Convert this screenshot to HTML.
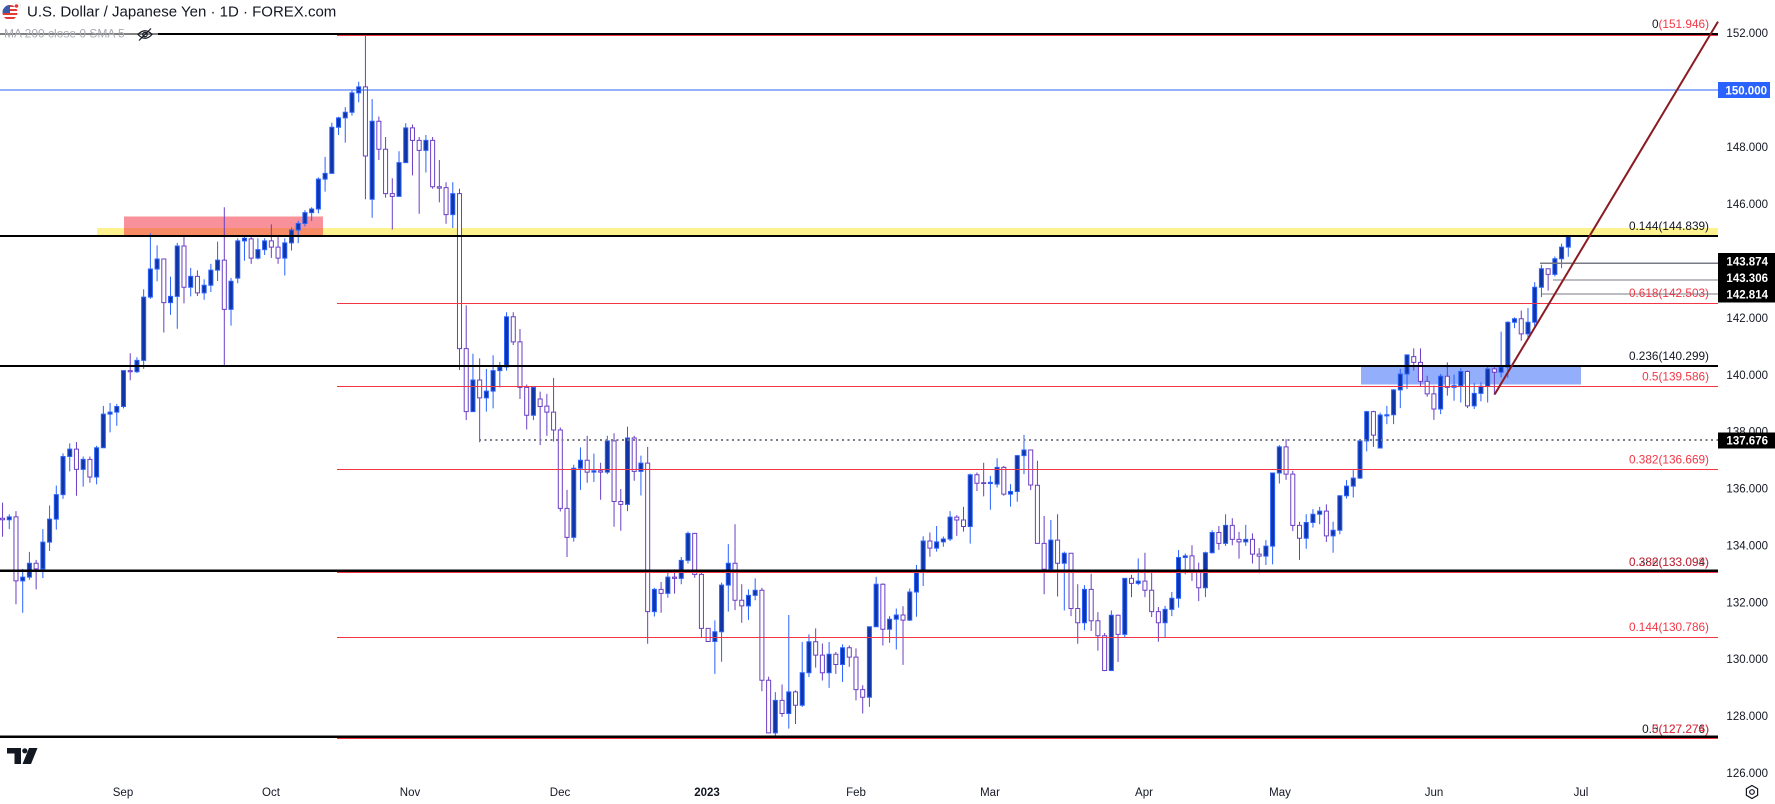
<!DOCTYPE html>
<html><head><meta charset="utf-8">
<style>
html,body{margin:0;padding:0;background:#fff;}
svg{display:block;font-family:"Liberation Sans",sans-serif;}
</style></head><body>
<svg width="1775" height="804" viewBox="0 0 1775 804" xmlns="http://www.w3.org/2000/svg">
<rect width="1775" height="804" fill="#ffffff"/>

<!-- zones -->
<rect x="97" y="228" width="1621" height="8" fill="#fdf28d"/>
<rect x="124" y="216.5" width="199" height="20.5" fill="rgb(242,54,69)" fill-opacity="0.55"/>
<rect x="1361" y="366.5" width="220" height="18" fill="#93affc"/>

<!-- wicks -->
<g transform="matrix(6.72 0 0 -28.456 123.5 4358.41)" fill="none" stroke-width="1">
<path vector-effect="non-scaling-stroke" stroke="#2962ff" d="M-17 135.09V134.57M-15 133.17V131.63M-14 133.77V132.79M-12 134.57V132.85M-11 135.4V133.8M-10 136.1V134.55M-9 137.23V135.63M-8 137.58V136.6M-6 137.12V136.06M-4 137.5V136.14M-3 138.9V137.43M-2 139V137.97M-1 138.97V138.2M0 140.14V138.81M2 140.61V140.06M3 143V140.2M4 144.96V142.66M5 144.54V143.28M7 143.44V142.1M8 144.63V141.61M10 143.75V142.75M12 143.35V142.63M13 143.89V142.9M14 144.67V143.29M16 143.4V141.72M17 144.79V143.21M18 144.9V144M20 144.79V144.05M21 144.79V144.2M24 144.79V143.48M25 145.17V144.36M26 145.4V144.62M27 145.78V145.21M28 145.88V145.4M29 146.93V145.67M30 147.65V146.43M31 148.85V147.07M32 149.06V148.42M33 149.4V148.15M34 149.98V149.1M35 150.29V149.57M37 149.68V145.51M41 147.85V146.26M42 148.83V147.45M45 148.42V147.1M49 146.76V145.15M52 140.73V138.7M54 140.2V138.7M55 140.68V138.81M56 140.44V139.55M57 142.19V140.14M61 139.55V138.4M67 136.83V134.13M68 137.44V135.95M70 137.22V136.23M72 137.85V136.5M75 138.17V135.2M77 137.15V135.75M79 132.51V131.5M81 133.1V132.16M83 133.59V132.63M84 134.48V133.36M88 131.36V129.48M89 132.69V129.91M90 134.04V131.67M93 132.45V131.38M94 132.84V132.07M97 128.84V127.21M99 131.55V127.56M101 130.6V128.32M102 130.87V129.37M105 130.6V128.99M107 130.52V129.2M111 131.14V128.32M112 132.89V131.14M114 131.51V130.57M115 131.78V130.34M117 132.48V131.34M118 133.31V131.49M119 134.32V132.57M121 134.68V133.78M122 134.31V133.95M123 135.2V134.15M126 136.52V134.06M129 136.44V135.25M130 137.06V136.03M132 136.15V135.36M133 137.18V135.53M134 137.88V136.5M138 134.89V133.06M140 133.78V131.71M143 132.6V131.02M147 131.71V129.58M149 132.84V130.75M151 133.54V132.6M155 131.87V130.75M156 132.36V131.51M157 133.83V131.81M158 133.71V132.98M161 133.78V132.18M162 134.53V133.71M164 135.09V133.98M167 134.72V133.98M170 134.18V133.31M171 136.56V133.33M172 137.52V136.17M176 135.09V133.88M177 135.27V134.62M178 135.35V134.74M180 134.83V133.74M181 135.76V134.39M182 136.29V135.64M183 136.64V135.68M184 137.7V136.33M185 138.73V137.3M187 138.66V137.42M188 138.9V138.26M189 139.49V138.26M190 140.2V138.82M191 140.69V139.49M196 140.02V138.61M198 140V139.08M199 140.22V139.02M201 139.7V138.79M202 139.73V139.06M203 140.29V139.02M205 141.51V139.9M206 141.87V139.88M207 142.01V141.63M209 142.34V141.29M210 143.25V141.66M211 143.86V142.72M213 144.15V143.45M214 144.6V143.74M215 144.89V144.14"/>
<path vector-effect="non-scaling-stroke" stroke="#6b3fc4" d="M-18 135.5V134.3M-16 135.2V131.93M-13 133.49V132.45M-7 137.63V135.74M-5 137.12V136.2M1 140.75V139.8M6 144.06V141.48M9 144.9V142.5M11 143.66V142.76M15 145.88V140.31M19 144.9V143.89M22 145.28V144.1M23 144.9V143.89M36 151.94V146.16M38 149.07V147.54M39 148.35V146.22M40 146.9V145.1M43 148.79V147M44 148.35V145.65M46 148.35V146.53M47 147.54V146.05M48 146.76V145.3M50 146.53V140.16M51 142.43V138.4M53 140.57V137.62M58 142.19V141.04M59 141.6V139.14M60 139.65V138.07M62 139.4V137.52M63 139.32V137.85M64 139.88V137.65M65 138.14V135.19M66 135.95V133.59M69 137.85V136.2M71 136.9V135.6M73 137.94V134.65M74 135.98V134.51M76 137.85V136.27M78 137.46V130.54M80 132.71V131.63M82 133.16V132.3M85 134.42V132.86M86 133.06V130.75M87 131.08V130.62M91 134.74V131.72M92 132.63V131.28M95 132.51V128.87M96 129.38V127.41M98 129.11V127.97M100 128.9V127.72M103 131.08V129.7M104 130.55V129.25M106 130.25V129.48M108 130.48V129.73M109 130.38V128.55M110 129.08V128.09M113 132.66V130.48M116 131.86V129.8M120 134.45V133.6M124 135.06V134.33M125 135.35V134.48M127 136.56V135.91M128 136.9V135.72M131 136.79V135.74M135 137.35V135.94M136 136.97V134.07M137 135.03V132.28M139 135.09V132.2M141 133.72V131.51M142 132.63V130.54M144 133V130.99M145 131.65V130.3M146 130.92V129.58M148 131.57V129.9M150 132.96V132.18M152 133.74V132.18M153 133.12V131.48M154 131.83V130.61M159 134V132.75M160 133.39V132.04M163 134.68V133.84M165 134.95V134M166 134.47V133.53M168 134.42V133.36M169 133.9V133.02M173 137.73V136.3M174 136.62V134.5M175 134.83V133.49M179 135.44V134.12M186 138.73V137.46M192 140.92V140.14M193 140.92V139.59M194 139.96V139.22M195 139.61V138.41M197 140.43V139.26M200 140.14V138.82M204 140.29V139.28M208 142.25V141.19M212 143.72V142.95"/>
</g>

<!-- bodies -->
<g transform="matrix(6.72 0 0 -28.456 121.484 4358.41)" stroke-width="1">
<path vector-effect="non-scaling-stroke" stroke="#2962ff" fill="#1235a5" d="M-17 134.9h.6V135h-.6ZM-15 132.75h.6V132.88h-.6ZM-14 132.88h.6V133.37h-.6ZM-12 133.17h.6V134.11h-.6ZM-11 134.11h.6V134.92h-.6ZM-10 134.92h.6V135.78h-.6ZM-9 135.78h.6V137.12h-.6ZM-8 137.12h.6V137.38h-.6ZM-6 136.67h.6V137.02h-.6ZM-4 136.4h.6V137.43h-.6ZM-3 137.43h.6V138.61h-.6ZM-2 138.61h.6V138.68h-.6ZM-1 138.68h.6V138.88h-.6ZM0 138.88h.6V140.14h-.6ZM2 140.1h.6V140.5h-.6ZM3 140.5h.6V142.72h-.6ZM4 142.72h.6V143.71h-.6ZM5 143.71h.6V144.06h-.6ZM7 142.53h.6V142.75h-.6ZM8 142.75h.6V144.52h-.6ZM10 143.07h.6V143.45h-.6ZM12 142.87h.6V143.14h-.6ZM13 143.14h.6V143.67h-.6ZM14 143.67h.6V144.02h-.6ZM16 142.29h.6V143.28h-.6ZM17 143.39h.6V144.7h-.6ZM18 144.7h.6V144.79h-.6ZM20 144.09h.6V144.39h-.6ZM21 144.39h.6V144.7h-.6ZM24 144.09h.6V144.63h-.6ZM25 144.63h.6V145.08h-.6ZM26 145.08h.6V145.31h-.6ZM27 145.31h.6V145.69h-.6ZM28 145.69h.6V145.82h-.6ZM29 145.82h.6V146.87h-.6ZM30 146.87h.6V147.07h-.6ZM31 147.07h.6V148.69h-.6ZM32 148.69h.6V149.02h-.6ZM33 149.02h.6V149.22h-.6ZM34 149.22h.6V149.9h-.6ZM35 149.9h.6V150.11h-.6ZM37 146.16h.6V148.9h-.6ZM41 146.26h.6V147.45h-.6ZM42 147.45h.6V148.67h-.6ZM45 147.88h.6V148.23h-.6ZM49 145.62h.6V146.36h-.6ZM52 138.7h.6V139.81h-.6ZM54 139.18h.6V139.42h-.6ZM55 139.42h.6V140.14h-.6ZM56 140.14h.6V140.27h-.6ZM57 140.27h.6V142.03h-.6ZM61 138.57h.6V139.55h-.6ZM67 134.28h.6V136.71h-.6ZM68 136.71h.6V136.99h-.6ZM70 136.57h.6V136.62h-.6ZM72 136.57h.6V137.67h-.6ZM75 135.44h.6V137.77h-.6ZM77 136.6h.6V136.89h-.6ZM79 131.67h.6V132.45h-.6ZM81 132.31h.6V132.88h-.6ZM83 132.84h.6V133.47h-.6ZM84 133.47h.6V134.42h-.6ZM88 130.62h.6V130.96h-.6ZM89 130.96h.6V132.6h-.6ZM90 132.6h.6V133.37h-.6ZM93 131.87h.6V132.24h-.6ZM94 132.24h.6V132.42h-.6ZM97 127.41h.6V128.55h-.6ZM99 128.09h.6V128.85h-.6ZM101 128.38h.6V129.52h-.6ZM102 129.52h.6V130.61h-.6ZM105 129.52h.6V130.17h-.6ZM107 129.81h.6V130.4h-.6ZM111 128.66h.6V131.14h-.6ZM112 131.14h.6V132.63h-.6ZM114 131.05h.6V131.4h-.6ZM115 131.4h.6V131.55h-.6ZM117 131.37h.6V132.36h-.6ZM118 132.36h.6V133.1h-.6ZM119 133.1h.6V134.15h-.6ZM121 133.9h.6V134.12h-.6ZM122 134.12h.6V134.22h-.6ZM123 134.22h.6V134.99h-.6ZM126 134.66h.6V136.48h-.6ZM129 136.17h.6V136.21h-.6ZM130 136.15h.6V136.74h-.6ZM132 135.8h.6V135.89h-.6ZM133 135.89h.6V137.15h-.6ZM134 137.15h.6V137.35h-.6ZM138 133.16h.6V134.18h-.6ZM140 133.37h.6V133.72h-.6ZM143 131.28h.6V132.45h-.6ZM147 129.6h.6V131.54h-.6ZM149 130.87h.6V132.84h-.6ZM151 132.66h.6V132.74h-.6ZM155 131.28h.6V131.75h-.6ZM156 131.75h.6V132.14h-.6ZM157 132.14h.6V133.57h-.6ZM158 133.57h.6V133.63h-.6ZM161 132.51h.6V133.74h-.6ZM162 133.74h.6V134.45h-.6ZM164 134.07h.6V134.7h-.6ZM167 134.12h.6V134.21h-.6ZM170 133.62h.6V133.97h-.6ZM171 133.97h.6V136.54h-.6ZM172 136.54h.6V137.46h-.6ZM176 134.25h.6V134.8h-.6ZM177 134.8h.6V135.09h-.6ZM178 135.09h.6V135.2h-.6ZM180 134.33h.6V134.53h-.6ZM181 134.53h.6V135.74h-.6ZM182 135.74h.6V136.08h-.6ZM183 136.08h.6V136.36h-.6ZM184 136.36h.6V137.67h-.6ZM185 137.67h.6V138.7h-.6ZM187 137.42h.6V138.58h-.6ZM188 138.55h.6V138.59h-.6ZM189 138.59h.6V139.46h-.6ZM190 139.46h.6V140.02h-.6ZM191 140.02h.6V140.69h-.6ZM196 138.79h.6V139.94h-.6ZM198 139.55h.6V139.61h-.6ZM199 139.61h.6V140.11h-.6ZM201 138.9h.6V139.34h-.6ZM202 139.34h.6V139.59h-.6ZM203 139.59h.6V140.2h-.6ZM205 140.08h.6V140.26h-.6ZM206 140.26h.6V141.84h-.6ZM207 141.84h.6V141.96h-.6ZM209 141.43h.6V141.84h-.6ZM210 141.84h.6V143.07h-.6ZM211 143.07h.6V143.72h-.6ZM213 143.52h.6V144.07h-.6ZM214 144.07h.6V144.48h-.6ZM215 144.48h.6V144.85h-.6Z"/>
<path vector-effect="non-scaling-stroke" stroke="#6b3fc4" fill="#ffffff" d="M-18 134.95h.6V134.9h-.6ZM-16 135h.6V132.75h-.6ZM-13 133.37h.6V133.17h-.6ZM-7 137.38h.6V136.67h-.6ZM-5 137.02h.6V136.4h-.6ZM1 140.14h.6V140.1h-.6ZM6 144.06h.6V142.53h-.6ZM9 144.52h.6V143.07h-.6ZM11 143.45h.6V142.87h-.6ZM15 144.02h.6V142.29h-.6ZM19 144.77h.6V144.09h-.6ZM22 144.7h.6V144.48h-.6ZM23 144.48h.6V144.09h-.6ZM36 150.11h.6V147.68h-.6ZM38 148.9h.6V147.92h-.6ZM39 147.92h.6V146.36h-.6ZM40 146.36h.6V146.26h-.6ZM43 148.67h.6V148.23h-.6ZM44 148.23h.6V147.88h-.6ZM46 148.23h.6V146.6h-.6ZM47 146.6h.6V146.55h-.6ZM48 146.57h.6V145.62h-.6ZM50 146.36h.6V140.91h-.6ZM51 140.91h.6V138.7h-.6ZM53 139.81h.6V139.18h-.6ZM58 142.03h.6V141.15h-.6ZM59 141.15h.6V139.55h-.6ZM60 139.55h.6V138.57h-.6ZM62 139.14h.6V138.88h-.6ZM63 138.89h.6V138.68h-.6ZM64 138.68h.6V138.05h-.6ZM65 138.05h.6V135.3h-.6ZM66 135.3h.6V134.28h-.6ZM69 136.99h.6V136.57h-.6ZM71 136.62h.6V136.57h-.6ZM73 137.67h.6V135.54h-.6ZM74 135.54h.6V135.44h-.6ZM76 137.77h.6V136.6h-.6ZM78 136.89h.6V131.67h-.6ZM80 132.45h.6V132.31h-.6ZM82 132.88h.6V132.84h-.6ZM85 134.42h.6V132.98h-.6ZM86 132.98h.6V131.08h-.6ZM87 131.08h.6V130.62h-.6ZM91 133.37h.6V132.07h-.6ZM92 132.07h.6V131.87h-.6ZM95 132.42h.6V129.26h-.6ZM96 129.26h.6V127.41h-.6ZM98 128.55h.6V128.09h-.6ZM100 128.85h.6V128.38h-.6ZM103 130.61h.6V130.14h-.6ZM104 130.14h.6V129.52h-.6ZM106 130.17h.6V129.81h-.6ZM108 130.4h.6V130.07h-.6ZM109 130.07h.6V128.93h-.6ZM110 128.93h.6V128.66h-.6ZM113 132.63h.6V131.05h-.6ZM116 131.55h.6V131.37h-.6ZM120 134.15h.6V133.9h-.6ZM124 134.99h.6V134.89h-.6ZM125 134.89h.6V134.66h-.6ZM127 136.48h.6V136.18h-.6ZM128 136.2h.6V136.17h-.6ZM131 136.74h.6V135.8h-.6ZM135 137.35h.6V136.12h-.6ZM136 136.11h.6V134.07h-.6ZM137 134.07h.6V133.16h-.6ZM139 134.18h.6V133.37h-.6ZM141 133.72h.6V131.78h-.6ZM142 131.78h.6V131.28h-.6ZM144 132.45h.6V131.35h-.6ZM145 131.35h.6V130.82h-.6ZM146 130.82h.6V129.6h-.6ZM148 131.54h.6V130.87h-.6ZM150 132.84h.6V132.66h-.6ZM152 132.74h.6V132.42h-.6ZM153 132.42h.6V131.67h-.6ZM154 131.67h.6V131.28h-.6ZM159 133.63h.6V133.07h-.6ZM160 133.07h.6V132.51h-.6ZM163 134.45h.6V134.07h-.6ZM165 134.7h.6V134.21h-.6ZM166 134.21h.6V134.12h-.6ZM168 134.21h.6V133.69h-.6ZM169 133.69h.6V133.62h-.6ZM173 137.46h.6V136.5h-.6ZM174 136.5h.6V134.7h-.6ZM175 134.7h.6V134.25h-.6ZM179 135.2h.6V134.33h-.6ZM186 138.7h.6V137.87h-.6ZM192 140.63h.6V140.43h-.6ZM193 140.43h.6V139.76h-.6ZM194 139.76h.6V139.32h-.6ZM195 139.32h.6V138.79h-.6ZM197 139.94h.6V139.55h-.6ZM200 140.11h.6V138.9h-.6ZM204 140.2h.6V140.08h-.6ZM208 141.96h.6V141.43h-.6ZM212 143.72h.6V143.52h-.6Z"/>
</g>

<!-- horizontal lines -->
<g shape-rendering="crispEdges">
<rect x="0" y="89.5" width="1718" height="1" fill="#2962ff"/>
<rect x="0" y="33" width="1718" height="2" fill="#000"/>
<rect x="337" y="35" width="1381" height="1" fill="#f23645"/>
<rect x="0" y="235" width="1718" height="2" fill="#000"/>
<rect x="337" y="303" width="1381" height="1" fill="#f23645"/>
<rect x="0" y="365" width="1718" height="2" fill="#000"/>
<rect x="337" y="386" width="1381" height="1" fill="#f23645"/>
<rect x="337" y="469" width="1381" height="1" fill="#f23645"/>
<rect x="0" y="569.5" width="1718" height="2.5" fill="#000"/>
<rect x="337" y="572" width="1381" height="1" fill="#f23645"/>
<rect x="337" y="637" width="1381" height="1" fill="#f23645"/>
<rect x="0" y="735.5" width="1718" height="2.5" fill="#000"/>
<rect x="337" y="738" width="1381" height="1" fill="#f23645"/>
<rect x="1540" y="262.5" width="178" height="1.5" fill="#787b86"/>
<rect x="1553" y="279.5" width="165" height="1" fill="#787b86"/>
<rect x="1542" y="293.5" width="176" height="1" fill="#787b86"/>
</g>
<line x1="479" y1="440" x2="1718" y2="440" stroke="#787b86" stroke-width="2" stroke-dasharray="2,3.5"/>

<!-- trend line -->
<line x1="1494.7" y1="394.3" x2="1718" y2="21.6" stroke="#8b1a22" stroke-width="2"/>

<!-- legend -->
<rect x="0" y="31" width="158" height="6" fill="#fff" fill-opacity="0.5"/>
<text x="4" y="37.5" font-size="12" fill="#a8abb3">MA 200 close 0 SMA 5</text>
<g fill="none" stroke="#131722" stroke-width="1.2">
<path d="M138,34.5 Q145,27 152,34.5 Q145,42 138,34.5 Z"/>
<circle cx="145" cy="34.5" r="2.2"/>
<line x1="139" y1="40.5" x2="151" y2="28.5"/>
</g>
<defs><clipPath id="fc"><circle cx="10" cy="12.5" r="7.5"/></clipPath></defs>
<circle cx="16.5" cy="6" r="4" fill="#fff" stroke="#e6e6e6" stroke-width="0.6"/>
<circle cx="16.5" cy="6" r="1.8" fill="#e53935"/>
<g clip-path="url(#fc)">
<rect x="2" y="5" width="16" height="16" fill="#fff"/>
<rect x="2" y="5" width="16" height="2" fill="#e53935"/>
<rect x="2" y="9" width="16" height="2" fill="#e53935"/>
<rect x="2" y="13" width="16" height="2" fill="#e53935"/>
<rect x="2" y="17" width="16" height="2" fill="#e53935"/>
<rect x="2" y="5" width="8" height="8" fill="#3a5ba9"/>
</g>
<text x="27" y="16.5" font-size="15" fill="#131722">U.S. Dollar / Japanese Yen · 1D · FOREX.com</text>

<!-- fib labels -->
<g font-size="11.8" text-anchor="end">
<text x="1709" y="28" fill="#f23645"><tspan fill="#131722">0</tspan>(151.946)</text>
<text x="1709" y="230" fill="#131722">0.144(144.839)</text>
<text x="1709" y="297" fill="#f23645">0.618(142.503)</text>
<text x="1709" y="360" fill="#131722">0.236(140.299)</text>
<text x="1709" y="380.5" fill="#f23645">0.5(139.586)</text>
<text x="1709" y="463.5" fill="#f23645">0.382(136.669)</text>
<text x="1709" y="566" fill="#131722">0.382(133.094)</text>
<text x="1709" y="566" fill="#f23645" fill-opacity="0.85">0.236(133.098)</text>
<text x="1709" y="631" fill="#f23645">0.144(130.786)</text>
<text x="1709" y="733" fill="#131722">0.5(127.276)</text>
<text x="1709" y="733" fill="#f23645">0(127.274)</text>
</g>

<!-- price axis -->
<g font-size="11.5" fill="#131722" text-anchor="end">
<text x="1768" y="37">152.000</text>
<text x="1768" y="151">148.000</text>
<text x="1768" y="208">146.000</text>
<text x="1768" y="322">142.000</text>
<text x="1768" y="379">140.000</text>
<text x="1768" y="435.5">138.000</text>
<text x="1768" y="492.5">136.000</text>
<text x="1768" y="549.5">134.000</text>
<text x="1768" y="606.5">132.000</text>
<text x="1768" y="663">130.000</text>
<text x="1768" y="720">128.000</text>
<text x="1768" y="777">126.000</text>
</g>
<rect x="1718" y="82" width="52" height="16" fill="#2962ff"/>
<rect x="1718" y="253" width="57" height="16.5" fill="#000"/>
<rect x="1718" y="269.5" width="57" height="16.5" fill="#000"/>
<rect x="1718" y="286" width="57" height="16.5" fill="#000"/>
<rect x="1718" y="432.5" width="57" height="16" fill="#000"/>
<g font-size="11.5" fill="#ffffff" font-weight="bold" text-anchor="end">
<text x="1767" y="94.5">150.000</text>
<text x="1768" y="265.5">143.874</text>
<text x="1768" y="282">143.306</text>
<text x="1768" y="298.5">142.814</text>
<text x="1768" y="444.5">137.676</text>
</g>

<!-- time axis -->
<g font-size="11.5" fill="#131722" text-anchor="middle">
<text x="123" y="796">Sep</text>
<text x="271" y="796">Oct</text>
<text x="410" y="796">Nov</text>
<text x="560" y="796">Dec</text>
<text x="707" y="796" font-weight="bold">2023</text>
<text x="856" y="796">Feb</text>
<text x="990" y="796">Mar</text>
<text x="1144" y="796">Apr</text>
<text x="1280" y="796">May</text>
<text x="1434" y="796">Jun</text>
<text x="1581" y="796">Jul</text>
</g>

<!-- TV logo -->
<g fill="#131722">
<path d="M7,748 H21 V764 H14.5 V753.5 H7 Z"/>
<circle cx="24.8" cy="750.8" r="2.6"/>
<path d="M29,748 H37.5 L31,764 H22.5 Z"/>
</g>
<!-- gear -->
<g fill="none" stroke="#131722" stroke-width="1.2">
<path d="M1752,785.5 L1757.6,788.7 L1757.6,795.3 L1752,798.5 L1746.4,795.3 L1746.4,788.7 Z"/>
<circle cx="1752" cy="792" r="2.3"/>
</g>
</svg>
</body></html>
